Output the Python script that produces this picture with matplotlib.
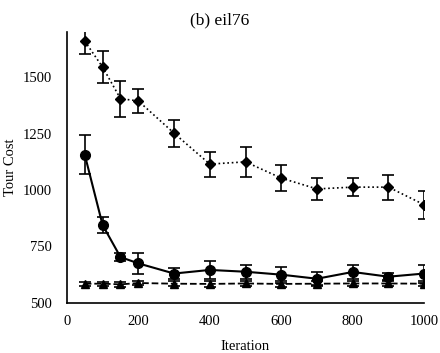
import numpy as np
import matplotlib.pyplot as plt

plt.rcParams['font.family'] = ['Liberation Serif', 'DejaVu Serif']

# iterations
iters = [50, 100, 150, 200, 300, 400, 500, 600, 700, 800, 900, 1000]

# diamond series (dotted)
diam = [1660, 1545, 1405, 1395, 1252, 1115, 1125, 1053, 1005, 1013, 1013, 935]
diam_err = [55, 70, 80, 55, 60, 55, 65, 57, 48, 40, 55, 62]

# circle series (solid)
circ = [1157, 845, 703, 675, 630, 646, 638, 625, 607, 637, 616, 630]
circ_err = [85, 35, 18, 45, 25, 40, 30, 35, 28, 30, 15, 40]

# triangle series (dashed)
tri = [585, 585, 582, 588, 585, 584, 586, 584, 585, 586, 586, 585]
tri_err = [8, 8, 10, 8, 10, 15, 10, 15, 10, 10, 12, 10]

fig = plt.figure(figsize=(4.4, 3.53), dpi=100)
ax = fig.add_axes([0.152, 0.142, 0.812, 0.767])

ax.errorbar(iters, diam, yerr=diam_err, color='black', ls=':', lw=1.2,
            marker='D', ms=5, capsize=4, elinewidth=1.2, capthick=1.2)
ax.errorbar(iters, circ, yerr=circ_err, color='black', ls='-', lw=1.5,
            marker='o', ms=7, capsize=4, elinewidth=1.2, capthick=1.2)
ax.errorbar(iters, tri, yerr=tri_err, color='black', ls='--', lw=1.3,
            marker='^', ms=6, capsize=4, elinewidth=1.2, capthick=1.2)

ax.set_xlim(0, 1000)
ax.set_ylim(500, 1700)
ax.set_xticks(range(0, 1001, 200))
ax.set_yticks([500, 750, 1000, 1250, 1500])
ax.tick_params(axis='y', length=0, labelsize=10.5, pad=11)
ax.tick_params(axis='x', length=0, labelsize=10.5, pad=9)
ax.spines['top'].set_visible(False)
ax.spines['right'].set_visible(False)
ax.spines['left'].set_linewidth(1.2)
ax.spines['bottom'].set_linewidth(1.2)

ax.set_xlabel('Iteration', fontsize=10.5, va='center')
ax.set_ylabel('Tour Cost', fontsize=10.5, va='center')
ax.xaxis.set_label_coords(0.5, -0.162)
ax.yaxis.set_label_coords(-0.158, 0.5)
fig.text(0.5, 0.943, '(b) eil76', ha='center', va='center', fontsize=12.5)

plt.savefig('out.png', dpi=100)
